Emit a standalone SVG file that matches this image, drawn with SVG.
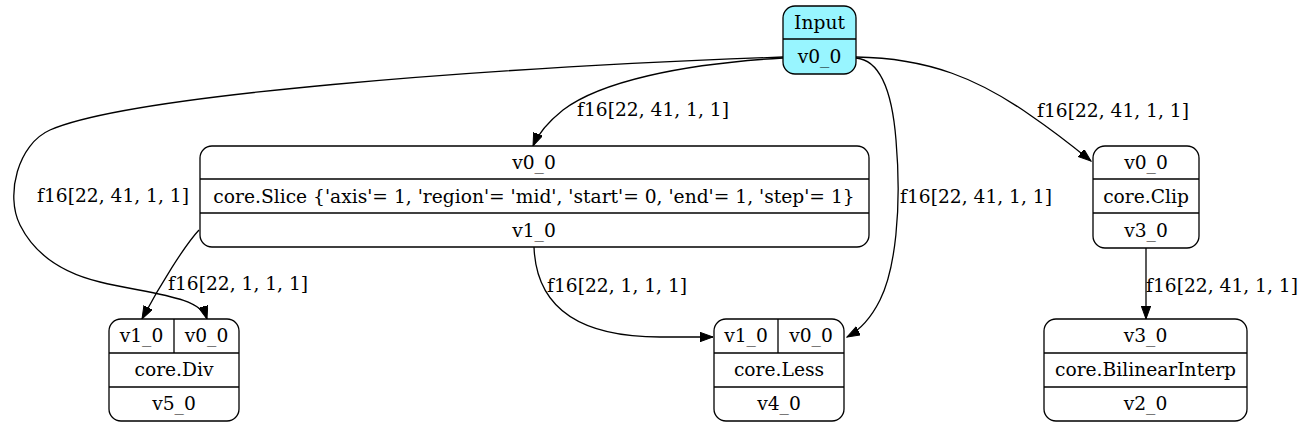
<svg xmlns="http://www.w3.org/2000/svg" width="1304" height="427" viewBox="0 0 1304 427">
<style>
text{font-family:"DejaVu Serif","Liberation Serif",serif;font-size:18.67px;fill:#000}
.c{text-anchor:middle}
.box{fill:#fff;stroke:#000;stroke-width:1.3}
.in{fill:#98f5ff}
.div{stroke:#000;stroke-width:1.3;fill:none}
.e{fill:none;stroke:#000;stroke-width:1.3}
</style>
<defs>
<marker id="ah" markerUnits="userSpaceOnUse" markerWidth="14" markerHeight="10" refX="13" refY="4.7" orient="auto">
<path d="M0,0 L13,4.7 L0,9.4 z" fill="#000" stroke="#000" stroke-width="1"/>
</marker>
</defs>
<rect width="1304" height="427" fill="#fff"/>
<g id="connectors">
<path class="e" marker-end="url(#ah)" d="M783,57 C480,68 130,95 50,130 C18,144 5,195 20,225 C30,245 50,270 100,282 C150,294 200,296 207,319"/>
<path class="e" marker-end="url(#ah)" d="M783,58 C680,64 600,82 563,110 C548,122 538,134 533,146"/>
<path class="e" marker-end="url(#ah)" d="M856,58 C880,60 892,90 896,140 C902,210 895,270 880,300 C872,316 860,330 847,337"/>
<path class="e" marker-end="url(#ah)" d="M856,57 C930,58 980,80 1030,115 C1055,132 1075,148 1091,161"/>
<path class="e" marker-end="url(#ah)" d="M199,230 C185,245 160,285 142,319"/>
<path class="e" marker-end="url(#ah)" d="M534,247 C536,300 570,337 660,337 L713,337"/>
<path class="e" marker-end="url(#ah)" d="M1146,248 L1146,319"/>
<text x="577" y="116">f16[22, 41, 1, 1]</text>
<text x="37" y="202">f16[22, 41, 1, 1]</text>
<text x="900" y="203">f16[22, 41, 1, 1]</text>
<text x="1037" y="117">f16[22, 41, 1, 1]</text>
<text x="168" y="290">f16[22, 1, 1, 1]</text>
<text x="547" y="292">f16[22, 1, 1, 1]</text>
<text x="1146" y="292">f16[22, 41, 1, 1]</text>
</g>
<g id="input">
<rect class="box in" x="783" y="6" width="73" height="68" rx="12"/>
<line class="div" x1="783" y1="39" x2="856" y2="39"/>
<text class="c" x="819.5" y="29">Input</text>
<text class="c" x="819.5" y="63">v0_0</text>
</g>
<g id="slice">
<rect class="box" x="200" y="146" width="669" height="101" rx="12"/>
<line class="div" x1="200" y1="179" x2="869" y2="179"/>
<line class="div" x1="200" y1="213" x2="869" y2="213"/>
<text class="c" x="534" y="169">v0_0</text>
<text class="c" x="534" y="202.5">core.Slice {'axis'= 1, 'region'= 'mid', 'start'= 0, 'end'= 1, 'step'= 1}</text>
<text class="c" x="534" y="236.5">v1_0</text>
</g>
<g id="div">
<rect class="box" x="109" y="319" width="130" height="102" rx="12"/>
<line class="div" x1="109" y1="353" x2="239" y2="353"/>
<line class="div" x1="109" y1="387" x2="239" y2="387"/>
<line class="div" x1="174" y1="319" x2="174" y2="353"/>
<text class="c" x="141.5" y="342">v1_0</text>
<text class="c" x="206.5" y="342">v0_0</text>
<text class="c" x="174" y="376">core.Div</text>
<text class="c" x="174" y="410">v5_0</text>
</g>
<g id="less">
<rect class="box" x="714" y="319" width="130" height="102" rx="12"/>
<line class="div" x1="714" y1="353" x2="844" y2="353"/>
<line class="div" x1="714" y1="387" x2="844" y2="387"/>
<line class="div" x1="778" y1="319" x2="778" y2="353"/>
<text class="c" x="746" y="342">v1_0</text>
<text class="c" x="811" y="342">v0_0</text>
<text class="c" x="779" y="376">core.Less</text>
<text class="c" x="779" y="410">v4_0</text>
</g>
<g id="clip">
<rect class="box" x="1093" y="146" width="106" height="102" rx="12"/>
<line class="div" x1="1093" y1="179" x2="1199" y2="179"/>
<line class="div" x1="1093" y1="213" x2="1199" y2="213"/>
<text class="c" x="1146" y="169">v0_0</text>
<text class="c" x="1146" y="202.5">core.Clip</text>
<text class="c" x="1146" y="237">v3_0</text>
</g>
<g id="bilinear">
<rect class="box" x="1044" y="319" width="203" height="102" rx="12"/>
<line class="div" x1="1044" y1="353" x2="1247" y2="353"/>
<line class="div" x1="1044" y1="387" x2="1247" y2="387"/>
<text class="c" x="1145.5" y="342">v3_0</text>
<text class="c" x="1145.5" y="376">core.BilinearInterp</text>
<text class="c" x="1145.5" y="410">v2_0</text>
</g>
</svg>
